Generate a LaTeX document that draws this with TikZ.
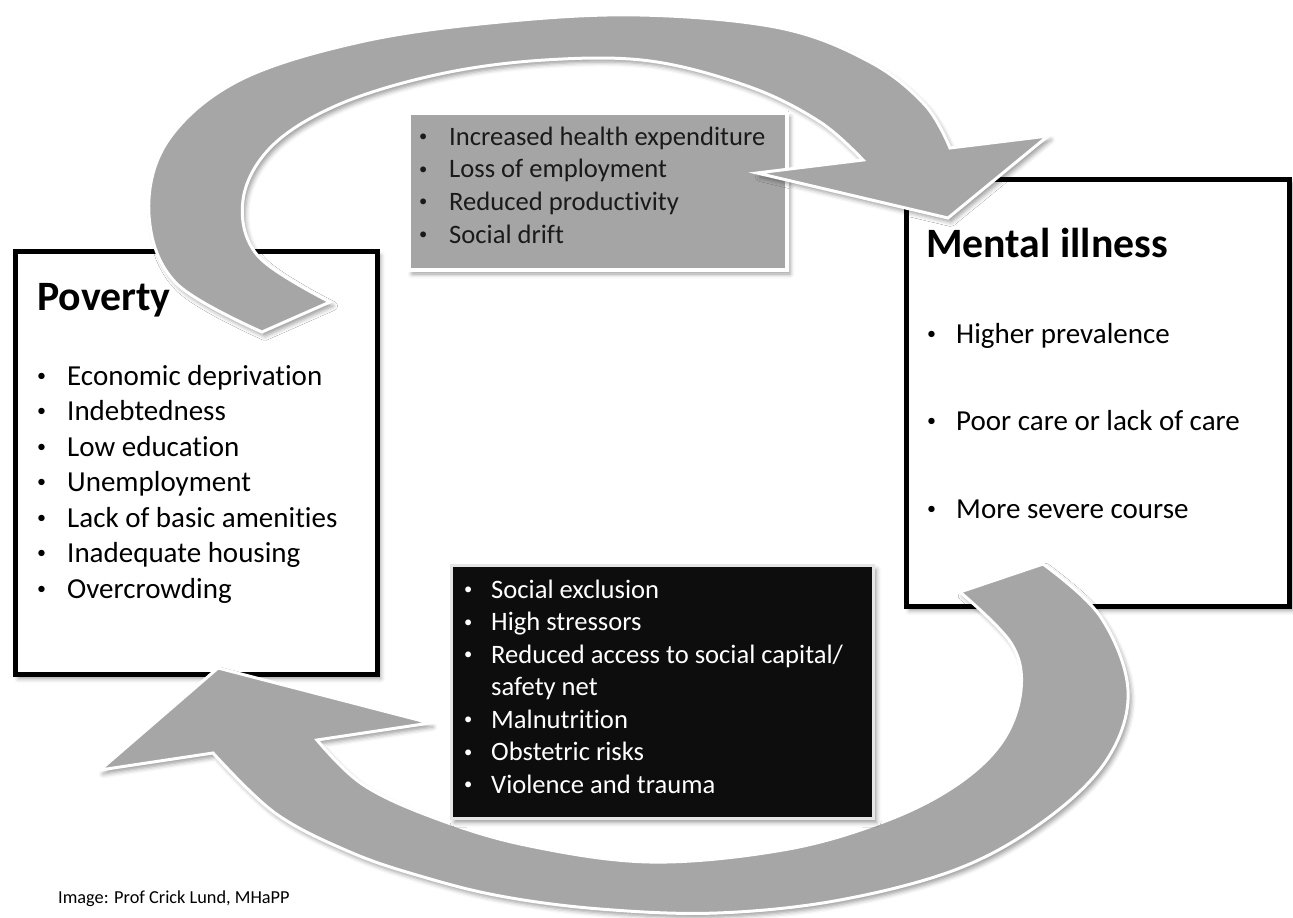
\documentclass[tikz,border=0pt]{standalone}
\usepackage{fontspec}
\setmainfont{Carlito}[Ligatures=NoCommon]
\usetikzlibrary{shadows.blur}

\definecolor{arrowgray}{HTML}{A6A6A6}
\definecolor{panelgray}{HTML}{A5A5A5}
\definecolor{panelblack}{HTML}{0D0D0D}
\definecolor{paneledge}{HTML}{E6E6E6}
\definecolor{inkdark}{HTML}{1A1A1A}

% small list bullet followed by the gap up to the item text
\newcommand\itembullet[1]{\makebox[#1][l]{\raisebox{0.13em}{\scalebox{0.62}{•}}}}

\begin{document}
\begin{tikzpicture}[x=1pt,y=-1pt,
  softshadow/.style={blur shadow={shadow xshift=3pt, shadow yshift=-4pt,
      shadow blur radius=4.5pt, shadow opacity=40}},
  framebox/.style={draw=black, line width=5pt, fill=white, inner sep=0pt,
      anchor=north west, softshadow},
  greypanel/.style={draw=white, line width=4pt, fill=panelgray, inner sep=0pt,
      anchor=north west, softshadow},
  darkpanel/.style={draw=paneledge, line width=3pt, fill=panelblack, inner sep=0pt,
      anchor=north west, softshadow},
  blockarrow/.style={fill=arrowgray, draw=white, line width=3pt, line join=miter,
      softshadow},
  linetext/.style={anchor=base west, inner sep=0pt},
  titletext/.style={linetext, font=\fontsize{41.8}{49}\selectfont\bfseries, text=black},
  itemtext/.style={linetext, font=\fontsize{29}{35}\selectfont, text=black},
  paneltext/.style={linetext, font=\fontsize{26.6}{32}\selectfont, text=inkdark},
  darktext/.style={linetext, font=\fontsize{26.6}{32}\selectfont, text=white},
]
\useasboundingbox (0,0) rectangle (1293,918);

% the two main boxes
\node[framebox, minimum width=362pt, minimum height=423pt] (poverty) at (13,249) {};
\node[framebox, minimum width=383pt, minimum height=427pt] (mental) at (904,177) {};

% grey panel of consequences of mental illness
\node[greypanel, minimum width=378pt, minimum height=157pt] (consequences) at (407,111) {};

% upper curved arrow: Poverty -> Mental illness
\path[blockarrow]
  plot[smooth, tension=0.6] coordinates {(262,332) (176,283) (149,215) (167,142)
     (238,81) (360,42) (500,22) (640,15) (780,28) (870,62) (925,105) (950,148)}
  -- (1048,136) -- (948,218) -- (757,173) -- (863,160)
  -- plot[smooth, tension=0.6] coordinates {(863,160) (820,122) (750,87) (650,61)
     (545,60) (440,74) (340,104) (272,146) (243,200) (258,256) (330,302)}
  -- cycle;

% lower curved arrow: Mental illness -> Poverty
\path[blockarrow]
  (218,668) -- (430,723) -- (317,740)
  -- plot[smooth, tension=0.6] coordinates {(317,740) (362,784) (432,817)
     (525,845) (650,862) (783,850) (883,822) (955,786) (1002,742) (1021,690)
     (1011,643) (960,592)}
  -- (1043,564)
  -- plot[smooth, tension=0.6] coordinates {(1043,564) (1100,616) (1128,690)
     (1108,758) (1048,818) (960,868) (840,900) (717,913) (600,909) (500,896)
     (420,876) (350,852) (275,813) (213,753)}
  -- (100,770) -- cycle;

% black panel of causes
\node[darkpanel, minimum width=422pt, minimum height=253pt] (causes) at (450,564) {};

% headings
\node[titletext] (povtitle) at (37,310) {Poverty};
\node[titletext] (mentitle) at (926,257) {Mental illness};

% poverty items
\foreach \t [count=\i] in {Economic deprivation, Indebtedness, Low education,
    Unemployment, Lack of basic amenities, Inadequate housing, Overcrowding}{
  \node[itemtext] (pov\i) at (37,{385+35.5*(\i-1)}) {\itembullet{30pt}\t};
}

% mental illness items
\node[itemtext] (men1) at (927,343) {\itembullet{29pt}Higher prevalence};
\node[itemtext] (men2) at (927,430) {\itembullet{29pt}Poor care or lack of care};
\node[itemtext] (men3) at (927,518) {\itembullet{29pt}More severe course};

% grey panel items
\foreach \t [count=\i] in {Increased health expenditure, Loss of employment,
    Reduced productivity, Social drift}{
  \node[paneltext] (con\i) at (419,{145+32.7*(\i-1)}) {\itembullet{30pt}\t};
}

% black panel items
\node[darktext] (cau1) at (464,598) {\itembullet{27pt}Social exclusion};
\node[darktext] (cau2) at (464,630.5) {\itembullet{27pt}High stressors};
\node[darktext] (cau3) at (464,663) {\itembullet{27pt}Reduced access to social capital/};
\node[darktext] (cau4) at (491,695.5) {safety net};
\node[darktext] (cau5) at (464,728) {\itembullet{27pt}Malnutrition};
\node[darktext] (cau6) at (464,760.5) {\itembullet{27pt}Obstetric risks};
\node[darktext] (cau7) at (464,793) {\itembullet{27pt}Violence and trauma};

% credit line
\node[linetext, font=\fontsize{18.3}{22}\selectfont] (credit)
  at (58,903) {Image: Prof Crick Lund, MHaPP};
\end{tikzpicture}
\end{document}
